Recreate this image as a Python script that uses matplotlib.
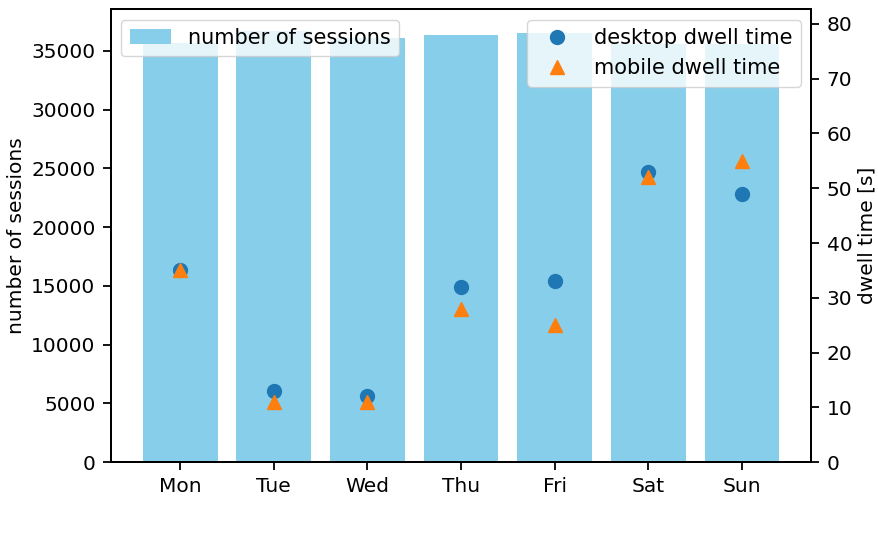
import numpy as np
import matplotlib
matplotlib.use('Agg')
import matplotlib.pyplot as plt

days = ['Mon', 'Tue', 'Wed', 'Thu', 'Fri', 'Sat', 'Sun']
sessions = [35660, 36710, 36070, 36370, 36520, 35600, 35600]
desktop_dwell = [35, 13, 12, 32, 33, 53, 49]
mobile_dwell = [35, 11, 11, 28, 25, 52, 55]

plt.rcParams['font.size'] = 14.5
plt.rcParams['axes.linewidth'] = 1.4
for ax_name in ('xtick', 'ytick'):
    plt.rcParams[ax_name + '.major.size'] = 6
    plt.rcParams[ax_name + '.major.width'] = 1.3
    plt.rcParams[ax_name + '.major.pad'] = 5

fig, ax1 = plt.subplots(figsize=(8.79, 5.38), dpi=100)
fig.subplots_adjust(left=0.126, right=0.923, top=0.983, bottom=0.141)

x = np.arange(len(days))
ax1.bar(x, sessions, width=0.8, color='skyblue', label='number of sessions')
ax1.set_xticks(x)
ax1.set_xticklabels(days)
ax1.set_ylabel('number of sessions')
ax1.legend(loc='upper left', fontsize=15)

ax2 = ax1.twinx()
ax2.plot(x, desktop_dwell, 'o', color='tab:blue', markersize=10, label='desktop dwell time')
ax2.plot(x, mobile_dwell, '^', color='tab:orange', markersize=10, label='mobile dwell time')
ax2.set_ylim(0, 82.7)
ax2.set_ylabel('dwell time [s]')
ax2.legend(loc='upper right', fontsize=15)

fig.savefig('out.png', dpi=100)
